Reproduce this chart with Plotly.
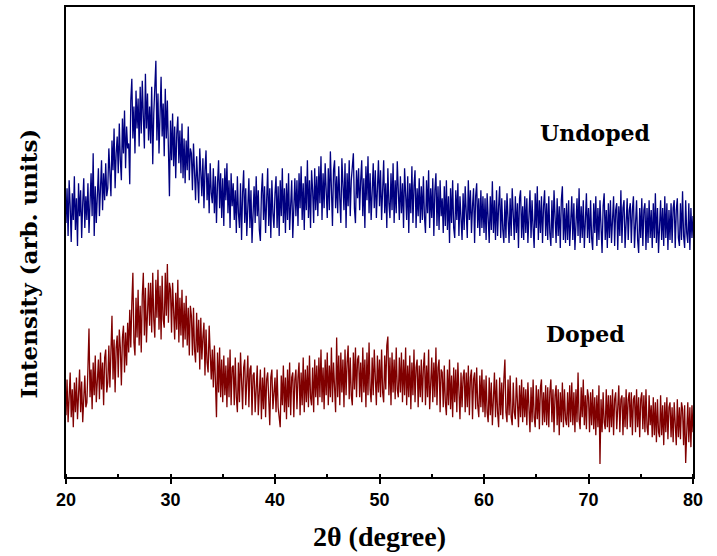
import plotly.graph_objects as go

undoped = [
    255, 290, 242, 298, 272, 236, 285, 258, 302, 248, 280, 232, 295, 262, 288, 240, 275, 300, 250, 282,
    258, 295, 245, 290, 305, 262, 325, 242, 292, 255, 285, 310, 262, 300, 318, 268, 305, 278, 315, 282,
    290, 330, 300, 282, 338, 308, 350, 290, 325, 342, 305, 355, 318, 298, 360, 325, 368, 310, 352, 330,
    335, 294, 378, 400, 340, 372, 325, 388, 350, 380, 332, 392, 345, 398, 362, 330, 405, 350, 385, 338,
    372, 335, 392, 314, 365, 395, 418, 338, 385, 325, 378, 402, 342, 375, 322, 390, 340, 378, 330, 282,
    358, 318, 365, 312, 352, 300, 345, 362, 315, 348, 305, 355, 300, 340, 295, 338, 308, 352, 298, 330,
    325, 288, 335, 295, 278, 322, 292, 275, 330, 300, 282, 320, 270, 308, 328, 278, 305, 265, 315, 285,
    275, 310, 265, 302, 255, 295, 318, 270, 305, 260, 300, 252, 310, 278, 315, 265, 298, 250, 305, 272,
    295, 258, 288, 245, 302, 265, 250, 295, 238, 285, 308, 255, 290, 242, 280, 300, 250, 288, 235, 278,
    292, 255, 302, 262, 288, 248, 237, 285, 305, 258, 292, 245, 280, 310, 252, 290, 240, 298, 265, 250,
    285, 302, 250, 292, 242, 298, 262, 310, 255, 290, 245, 295, 258, 305, 248, 285, 298, 240, 280, 300,
    262, 298, 252, 305, 270, 312, 258, 295, 248, 302, 268, 318, 260, 298, 250, 308, 288, 255, 310, 268,
    302, 262, 312, 275, 322, 258, 305, 270, 315, 278, 260, 310, 268, 327, 295, 252, 308, 318, 270, 302,
    265, 312, 280, 255, 320, 295, 268, 315, 250, 305, 272, 318, 262, 298, 310, 325, 270, 255, 308, 280,
    310, 268, 298, 318, 262, 300, 250, 312, 278, 322, 265, 305, 258, 295, 315, 270, 308, 260, 298, 318,
    272, 308, 258, 300, 318, 265, 295, 250, 310, 275, 260, 305, 268, 315, 255, 298, 265, 317, 285, 258,
    302, 265, 295, 250, 310, 272, 258, 302, 245, 295, 265, 312, 255, 292, 308, 250, 290, 262, 300, 255,
    292, 258, 302, 262, 245, 298, 265, 308, 250, 290, 260, 300, 242, 288, 305, 252, 292, 248, 298, 262,
    280, 245, 292, 252, 298, 248, 282, 235, 290, 255, 298, 250, 240, 288, 258, 295, 242, 282, 252, 238,
    285, 248, 292, 255, 240, 298, 258, 288, 245, 272, 290, 235, 282, 295, 250, 280, 242, 288, 250, 282,
    245, 280, 238, 285, 250, 235, 282, 248, 297, 245, 278, 238, 288, 242, 272, 292, 240, 280, 248, 235,
    278, 240, 285, 248, 235, 280, 242, 290, 252, 238, 282, 245, 275, 230, 280, 288, 240, 272, 238, 282,
    245, 280, 235, 275, 288, 240, 278, 250, 230, 285, 250, 292, 238, 278, 245, 282, 235, 272, 288, 242,
    275, 238, 282, 245, 232, 278, 240, 288, 250, 235, 280, 242, 272, 230, 278, 292, 238, 270, 235, 275,
    238, 278, 232, 270, 282, 238, 275, 228, 265, 280, 242, 290, 235, 272, 240, 278, 230, 268, 285, 240,
    270, 235, 278, 240, 228, 275, 245, 282, 232, 270, 238, 278, 242, 225, 272, 285, 238, 268, 230, 275,
    240, 278, 235, 270, 282, 232, 268, 275, 228, 272, 242, 288, 235, 270, 278, 230, 265, 280, 238, 268,
    275, 235, 268, 282, 230, 265, 278, 238, 225, 270, 240, 280, 232, 268, 275, 228, 270, 235, 278, 240,
    268, 230, 275, 240, 285, 235, 270, 225, 265, 278, 238, 270, 232, 282, 240, 275, 228, 268, 238, 275,
    235, 270, 278, 230, 268, 280, 240, 232, 275, 238, 287, 242, 230, 278, 245, 235, 275, 228, 270, 240,
    262,
]

doped = [
    62, 98, 55, 90, 105, 60, 88, 50, 95, 65, 100, 58, 92, 108, 65, 96, 55, 90, 102, 70,
    75, 110, 149, 80, 108, 68, 115, 82, 122, 75, 108, 118, 78, 125, 88, 115, 72, 120, 128, 85,
    95, 132, 90, 128, 162, 98, 138, 85, 130, 142, 100, 148, 130, 92, 140, 152, 105, 145, 112, 155,
    125, 168, 130, 175, 205, 135, 122, 180, 140, 188, 132, 172, 125, 182, 205, 142, 190, 135, 175, 195,
    152, 195, 145, 205, 158, 140, 198, 160, 208, 148, 192, 138, 202, 158, 150, 205, 162, 214, 155, 195,
    188, 145, 195, 152, 138, 185, 148, 198, 135, 180, 142, 188, 130, 175, 138, 182, 132, 170, 122, 172,
    162, 122, 170, 128, 115, 165, 125, 158, 108, 160, 118, 140, 155, 102, 148, 115, 105, 152, 110, 98,
    128, 90, 132, 95, 60, 125, 85, 130, 80, 118, 75, 122, 82, 112, 70, 120, 80, 128, 72, 110,
    112, 72, 120, 80, 65, 115, 75, 125, 82, 68, 110, 118, 72, 105, 122, 70, 108, 112, 62, 102,
    105, 65, 100, 112, 62, 98, 108, 58, 100, 68, 110, 60, 98, 105, 65, 52, 100, 108, 68, 88,
    100, 65, 108, 70, 60, 50, 102, 72, 112, 65, 100, 58, 108, 70, 115, 62, 100, 105, 60, 98,
    108, 68, 100, 115, 62, 105, 72, 120, 65, 108, 75, 112, 70, 122, 80, 72, 110, 65, 118, 80,
    112, 72, 120, 80, 128, 75, 110, 68, 118, 82, 125, 72, 112, 80, 130, 75, 115, 82, 65, 140,
    80, 122, 72, 125, 85, 118, 70, 128, 82, 115, 132, 78, 120, 82, 72, 125, 88, 130, 80, 118,
    122, 80, 115, 75, 130, 85, 118, 70, 125, 82, 135, 88, 75, 120, 82, 128, 90, 72, 122, 85,
    118, 80, 128, 85, 75, 122, 88, 132, 141, 82, 120, 72, 125, 85, 118, 78, 130, 88, 80, 120,
    85, 125, 75, 118, 82, 130, 72, 112, 80, 122, 68, 115, 82, 128, 75, 110, 118, 70, 112, 80,
    118, 75, 110, 125, 72, 112, 80, 128, 68, 108, 120, 75, 115, 80, 130, 72, 110, 118, 65, 108,
    105, 70, 112, 75, 62, 108, 72, 118, 68, 102, 60, 110, 75, 108, 65, 115, 72, 58, 105, 70,
    100, 108, 65, 105, 70, 112, 62, 100, 108, 58, 98, 105, 68, 110, 72, 60, 102, 70, 108, 65,
    98, 60, 102, 65, 55, 100, 62, 95, 52, 92, 105, 60, 98, 65, 50, 100, 62, 95, 58, 98,
    118, 65, 55, 98, 62, 102, 60, 52, 95, 65, 58, 100, 62, 50, 92, 60, 98, 55, 90, 60,
    88, 52, 95, 58, 45, 90, 55, 98, 60, 50, 92, 58, 88, 48, 90, 98, 52, 85, 55, 92,
    52, 90, 50, 85, 98, 55, 88, 45, 82, 92, 52, 88, 42, 85, 55, 95, 50, 88, 58, 52,
    85, 50, 92, 55, 95, 52, 85, 45, 88, 55, 105, 58, 48, 90, 60, 98, 52, 82, 48, 88,
    80, 45, 85, 52, 88, 48, 80, 42, 82, 50, 92, 13, 78, 45, 85, 55, 48, 88, 50, 82,
    45, 82, 50, 88, 42, 78, 85, 48, 80, 92, 45, 78, 82, 42, 80, 50, 88, 48, 78, 85,
    50, 85, 42, 78, 82, 45, 88, 50, 80, 40, 78, 85, 48, 82, 45, 88, 50, 42, 82, 52,
    72, 40, 80, 42, 75, 35, 78, 45, 40, 82, 42, 72, 32, 75, 45, 80, 38, 70, 75, 40,
    70, 35, 75, 42, 32, 78, 40, 70, 38, 75, 68, 32, 72, 14, 40, 75, 35, 70, 30, 72,
    45,
]

x_undoped = [round(20 + 0.1 * i, 1) for i in range(len(undoped))]
x_doped = [round(20 + 0.1 * i, 1) for i in range(len(doped))]

labels = ["Undoped", "Doped"]
label_x = [70.6, 69.7]
label_y = [345, 144]

fig = go.Figure()
fig.add_trace(go.Scatter(x=x_undoped, y=undoped, mode="lines",
                         line=dict(color="#000080", width=1.3), name="Undoped"))
fig.add_trace(go.Scatter(x=x_doped, y=doped, mode="lines",
                         line=dict(color="#800000", width=1.3), name="Doped"))

for t, xx, yy in zip(labels, label_x, label_y):
    fig.add_annotation(x=xx, y=yy, text=t, showarrow=False,
                       font=dict(family="DejaVu Serif", size=22, color="black", weight="bold"))

# y-axis title placed as a rotated annotation to match its vertical position
fig.add_annotation(xref="paper", yref="paper", x=-0.06, y=0.455,
                   text="Intensity (arb. units)", textangle=-90, showarrow=False,
                   xanchor="center", yanchor="middle",
                   font=dict(family="DejaVu Serif", size=23, color="black", weight="bold"))

fig.update_layout(
    width=717, height=556,
    margin=dict(l=66, r=24, t=5, b=79),
    plot_bgcolor="white", paper_bgcolor="white",
    showlegend=False,
)
fig.update_xaxes(
    range=[20, 80], dtick=10, tick0=20,
    ticks="outside", ticklen=5, tickwidth=1.5, tickcolor="black",
    minor=dict(ticks="inside", dtick=5, ticklen=3, tickcolor="black"),
    showline=True, linewidth=2, linecolor="black", mirror=True,
    showgrid=False, zeroline=False,
    tickfont=dict(family="Liberation Sans Narrow, Liberation Sans", size=18, color="black", weight="bold"),
    title=dict(text="2θ (degree)", standoff=18,
               font=dict(family="Liberation Serif", size=28, color="black", weight="bold")),
)
fig.update_yaxes(
    range=[0, 472], showticklabels=False, ticks="",
    showline=True, linewidth=2, linecolor="black", mirror=True,
    showgrid=False, zeroline=False,
)

fig.write_html("out.html", config={"displayModeBar": False},
               post_script="document.body.style.margin='0px';")
